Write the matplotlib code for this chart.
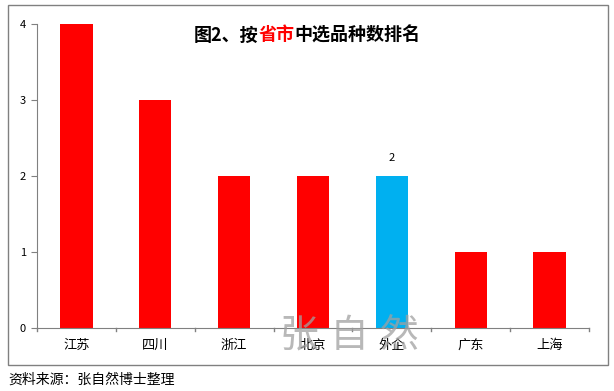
import matplotlib
matplotlib.use("Agg")
import matplotlib.pyplot as plt
from matplotlib.offsetbox import TextArea, HPacker, AnchoredOffsetbox
from matplotlib.patches import Rectangle

plt.rcParams['font.family'] = ['Noto Sans CJK SC', 'DejaVu Sans']

# 数据
provinces = ['江苏', '四川', '浙江', '北京', '外企', '广东', '上海']
counts = [4, 3, 2, 2, 2, 1, 1]
colors = ['#FF0000'] * 4 + ['#00B0F0'] + ['#FF0000'] * 2
y_ticks = [0, 1, 2, 3, 4]

fig = plt.figure(figsize=(6.14, 3.91), dpi=100)
W, H = 614, 391
ax = fig.add_axes([37 / W, 1 - 328 / H, (589 - 37) / W, (328 - 24) / H])

x = range(len(provinces))
ax.bar(x, counts, width=0.41, color=colors)
ax.set_xlim(-0.5, len(provinces) - 0.5)
ax.set_ylim(0, 4)
ax.set_yticks(y_ticks)
ax.set_xticks(x)
ax.set_xticklabels(provinces, fontsize=9.5)
ax.tick_params(axis='y', labelsize=8, length=4, color='#808080', pad=4)
ax.tick_params(axis='x', length=0, pad=8)
# x 轴刻度线在类别之间
for b in [i - 0.5 for i in range(len(provinces) + 1)]:
    ax.plot([b, b], [0, -0.04], color='#808080', lw=1, clip_on=False)
for s in ['top', 'right']:
    ax.spines[s].set_visible(False)
for s in ['left', 'bottom']:
    ax.spines[s].set_color('#808080')

# 外企数据标签
ax.text(4, counts[4] + 0.17, str(counts[4]), ha='center', va='bottom', fontsize=8)

# 标题（"省市"为红色）
tp = dict(fontsize=13, fontweight='bold')
parts = [TextArea('图2、按', textprops=dict(tp, color='black')),
         TextArea('省市', textprops=dict(tp, color='#FF0000')),
         TextArea('中选品种数排名', textprops=dict(tp, color='black'))]
box = HPacker(children=parts, pad=0, sep=0)
anchored = AnchoredOffsetbox(loc='center', child=box, frameon=False,
                             bbox_to_anchor=(307 / W, 1 - 35 / H),
                             bbox_transform=fig.transFigure, borderpad=0)
fig.add_artist(anchored)

# 水印
for ch, cx in zip('张自然', [299, 349, 399]):
    fig.text(cx / W, 1 - 336 / H, ch, fontsize=28, color='#A0A0A0', alpha=0.75,
             ha='center', va='center', fontweight='light')

# 外框
fig.add_artist(Rectangle((8 / W, 1 - 365 / H), 600 / W, 360 / H, transform=fig.transFigure,
                         fill=False, edgecolor='#808080', lw=1))

# 资料来源
fig.text(8 / W, 1 - 380 / H, '资料来源：张自然博士整理', fontsize=10, ha='left', va='center')

fig.savefig('out.png', dpi=100)
